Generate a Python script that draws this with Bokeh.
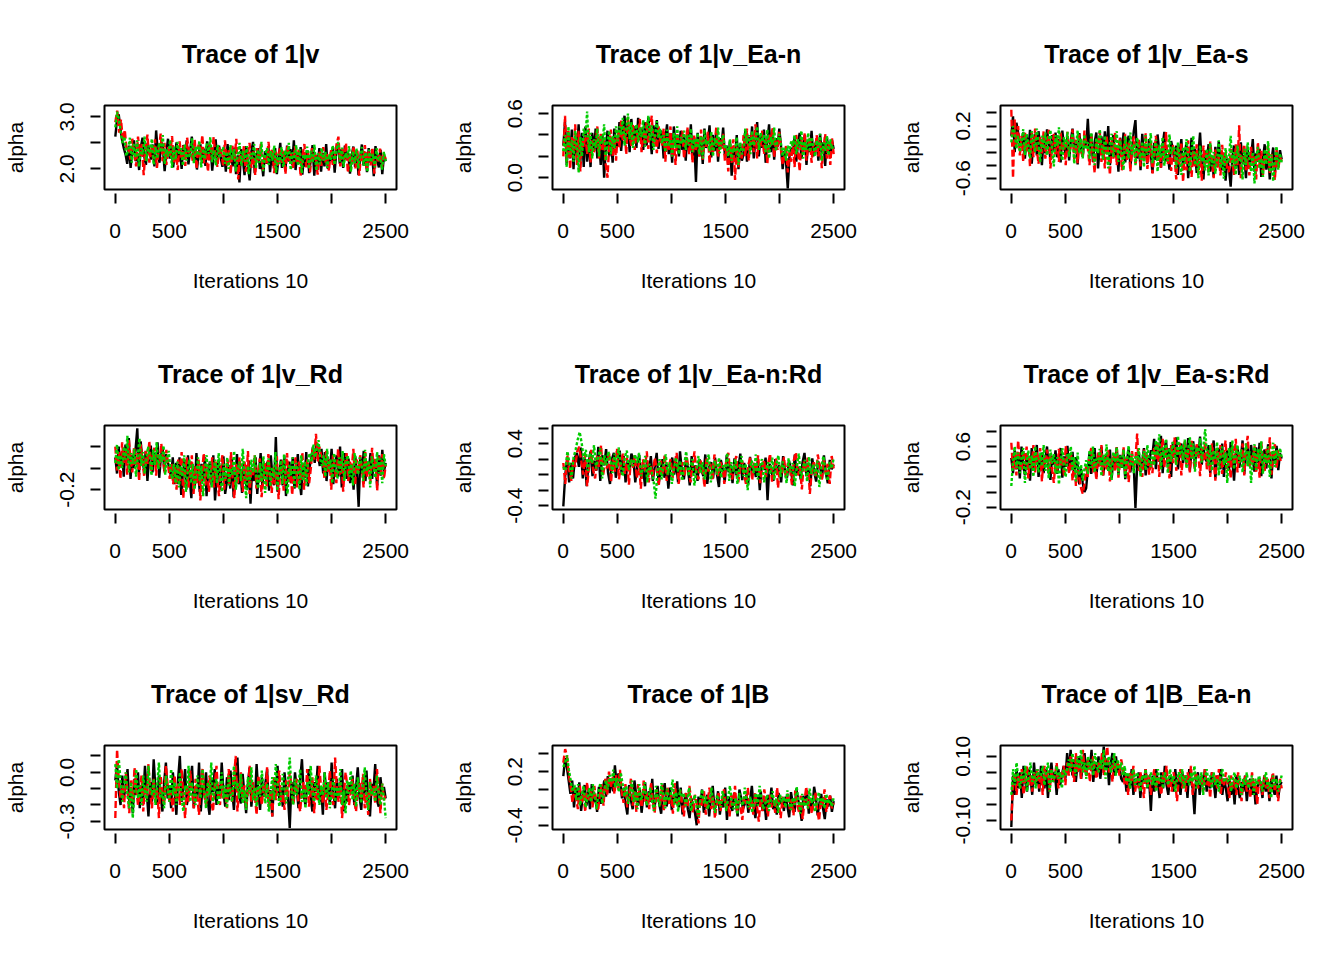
import numpy as np
from bokeh.plotting import figure
from bokeh.layouts import column, row
from bokeh.models import FixedTicker, Range1d, PrintfTickFormatter
from bokeh.embed import file_html
from bokeh.resources import INLINE

titles = ["Trace of 1|v", "Trace of 1|v_Ea-n", "Trace of 1|v_Ea-s",
          "Trace of 1|v_Rd", "Trace of 1|v_Ea-n:Rd", "Trace of 1|v_Ea-s:Rd",
          "Trace of 1|sv_Rd", "Trace of 1|B", "Trace of 1|B_Ea-n"]
x_label = "Iterations 10"
y_label = "alpha"
x_ticks_labeled = [0, 500, 1500, 2500]
x_ticks_unlabeled = [1000, 2000]
y_limits = [(1.606, 3.219), (-0.110, 0.676), (-0.775, 0.515), (-0.385, 0.397),
            (-0.45, 0.634), (-0.23, 0.877), (-0.35, 0.164), (-0.447, 0.491), (-0.128, 0.1335)]
y_ticks_labeled = [[2.0, 3.0], [0.0, 0.6], [-0.6, 0.2], [-0.2], [-0.4, 0.4],
                   [-0.2, 0.6], [-0.3, 0.0], [-0.4, 0.2], [-0.10, 0.10]]
y_ticks_unlabeled = [[2.5], [0.2, 0.4], [-0.4, -0.2, 0.0, 0.4], [0.0, 0.2], [-0.2, 0.0, 0.2, 0.6],
                     [0.0, 0.2, 0.4, 0.8], [-0.2, -0.1, 0.1], [-0.2, 0.0, 0.4], [-0.05, 0.0, 0.05]]
y_formats = ["%.1f"] * 8 + ["%.2f"]

# ---- chains, sampled evenly along the 2500 thinned iterations ----
v_c1 = [2.62, 2.95, 3.05, 2.78, 2.55, 2.40, 2.28,
        2.10, 2.45, 2.02, 2.38, 2.55, 2.15, 2.31, 1.98, 2.42, 2.60, 2.25, 2.08, 2.50, 2.36, 2.18, 2.47, 2.05, 2.74,
        2.30, 2.12, 2.52, 2.40, 1.96, 2.33, 2.58, 2.20, 2.44, 2.03, 2.29, 2.51, 2.14, 2.37, 2.00, 2.46, 2.22, 2.55,
        2.09, 2.35, 2.62, 2.16, 2.41, 1.99, 2.27, 2.48, 2.11, 2.39, 2.06, 2.53, 2.24, 2.43, 1.97, 2.32, 2.57, 2.13,
        2.45, 2.21, 2.04,
        2.30, 1.95, 2.48, 2.12, 2.35, 2.05, 2.41, 1.90, 2.26, 1.74, 2.38, 2.18, 1.88, 2.44, 2.08, 1.78, 2.33, 2.52,
        1.92, 2.22, 2.40, 2.00, 2.15, 1.86, 2.34, 2.10, 2.44, 1.94, 2.28, 2.06, 2.40, 1.90, 2.22, 2.50, 2.02, 2.32,
        1.96, 2.45, 2.14, 2.38, 2.08, 2.55, 1.98, 2.30, 2.12, 2.42, 1.89, 2.25, 2.04, 2.36, 1.92, 2.20, 2.46, 1.87,
        2.27, 2.09, 2.40, 1.95, 2.31, 2.05, 2.48, 2.00, 2.24, 2.15, 2.42, 1.93, 2.35, 2.50, 2.10, 2.38, 2.02, 2.45,
        2.18, 2.30, 1.91, 2.26, 2.43, 2.04, 2.36, 1.88, 2.21, 2.47, 2.07, 2.33, 1.94, 2.40, 2.12, 2.28, 1.86, 2.44,
        2.16, 2.03, 2.37, 1.90, 2.25, 2.15]
v_c2 = [2.90, 3.12, 2.70, 2.95, 2.55, 2.75, 2.35,
        2.40, 2.18, 2.58, 2.30, 2.05, 2.62, 2.25, 2.48, 1.88, 2.35, 2.66, 2.12, 2.44, 2.20, 2.57, 2.02, 2.38, 2.68,
        2.15, 2.50, 2.08, 2.42, 2.25, 2.63, 2.10, 2.36, 1.98, 2.53, 2.19, 2.45, 2.06, 2.60, 2.28, 2.40, 2.14, 2.56,
        2.00, 2.47, 2.23, 2.65, 2.11, 2.34, 1.95, 2.49, 2.17, 2.61, 2.26, 2.04, 2.43, 2.32, 2.07,
        2.55, 2.05, 2.36, 1.90, 2.45, 2.18, 2.58, 1.80, 2.30, 2.10, 2.44, 1.95, 2.26, 2.50, 2.02, 2.34, 1.88, 2.40,
        2.15, 2.48, 1.97, 2.28, 2.08, 2.52, 2.20, 2.38, 1.92, 2.33, 2.04, 2.42, 2.12, 2.35, 1.90, 2.46, 2.16, 2.30,
        2.00, 2.44, 2.10, 2.37, 1.86, 2.25, 2.48, 2.03, 2.32, 1.94, 2.40, 2.14, 2.27, 1.89, 2.35, 2.06, 2.42, 2.11,
        2.30, 1.96, 2.38, 2.08, 2.20, 2.47, 2.62, 2.05, 2.39, 2.18, 2.50, 1.93, 2.31, 2.09, 2.44, 2.01, 2.36, 1.87,
        2.29, 2.13, 2.46, 1.98, 2.34, 2.07, 2.41, 1.91, 2.24, 2.12, 2.39, 2.02, 2.30, 2.19]
v_c3 = [2.80, 3.10, 2.95, 2.70, 2.50, 2.62, 2.25,
        2.35, 2.60, 2.12, 2.48, 2.22, 2.55, 2.05, 2.40, 2.28, 2.62, 2.15, 2.45, 2.30, 2.58, 2.08, 2.42, 2.20, 2.50,
        2.32, 2.65, 2.10, 2.38, 2.24, 2.56, 2.02, 2.44, 2.18, 2.52, 2.27, 2.40, 2.06, 2.47, 2.16, 2.35, 2.22, 2.59,
        2.11, 2.43, 2.26, 2.54, 2.03, 2.39, 2.19, 2.49, 2.29, 2.61, 2.13, 2.36, 2.07, 2.46, 2.21, 2.33,
        2.42, 2.10, 2.33, 2.00, 2.46, 2.18, 2.38, 1.95, 2.28, 2.50, 2.06, 2.35, 2.14, 2.44, 1.90, 2.30, 2.20, 2.48,
        2.02, 2.37, 2.12, 2.52, 1.96, 2.26, 2.40, 2.08, 2.34, 2.16, 2.45, 1.93, 2.29, 2.10, 2.42, 2.04, 2.36, 2.22,
        2.50, 1.98, 2.32, 2.14, 2.46, 2.06, 2.38, 1.92, 2.27, 2.18, 2.43, 2.00, 2.35, 2.12, 2.47, 1.97, 2.30, 2.09,
        2.40, 2.16, 2.33, 2.02, 2.28, 2.18, 2.45, 2.08, 2.36, 2.52, 2.14, 2.41, 2.04, 2.31, 2.21, 2.44, 1.95, 2.34,
        2.11, 2.39, 2.01, 2.26, 2.42, 2.06, 2.32, 1.94, 2.37, 2.13, 2.29, 2.03, 2.40, 2.17, 2.24, 1.99, 2.33, 2.15]

vEan_c1 = [0.30, 0.52, 0.12, 0.40, 0.18, 0.45, 0.08, 0.35, 0.22, 0.50, 0.15, 0.42, 0.10,
           0.48, 0.15, 0.38, 0.10, 0.42, 0.25, 0.46, 0.18, 0.35, 0.12, 0.40, 0.00, 0.28, 0.44, 0.20, 0.36, 0.14,
           0.46, 0.28,
           0.30, 0.52, 0.25, 0.45, 0.58, 0.32, 0.50, 0.24, 0.55, 0.38, 0.48, 0.28, 0.56, 0.35, 0.46, 0.26, 0.52,
           0.30, 0.57, 0.40, 0.22, 0.49, 0.34, 0.54, 0.27, 0.44,
           0.42, 0.18, 0.36, 0.50, 0.22, 0.40, 0.14, 0.48, 0.30, 0.34, 0.20, 0.44, 0.26, 0.38, 0.16, 0.45, 0.24,
           0.50, 0.18, 0.35, -0.04, 0.42, 0.20, 0.38, 0.13, 0.46, 0.28, 0.33, 0.49, 0.19, 0.40, 0.25, 0.44, 0.15,
           0.37, 0.29, 0.47, 0.21,
           0.30, 0.12, 0.35, 0.02, 0.26, 0.18, 0.40, 0.08, 0.32, 0.16,
           0.22, 0.44, 0.15, 0.38, 0.26, 0.48, 0.18, 0.36, 0.52, 0.20, 0.40, 0.28, 0.45, 0.14, 0.34, 0.50, 0.24,
           0.42, 0.17, 0.37, 0.29, 0.46,
           0.30, 0.08, 0.25, 0.14, -0.10, 0.20, 0.28,
           0.22, 0.38, 0.15, 0.32, 0.42, 0.18, 0.28, 0.40, 0.12, 0.34, 0.24, 0.44, 0.20, 0.30, 0.36, 0.16, 0.41,
           0.23, 0.33, 0.11, 0.38, 0.26, 0.19, 0.35, 0.27]
vEan_c2 = [0.20, 0.58, 0.15, 0.45, 0.08, 0.38, 0.25, 0.50, 0.12, 0.44, 0.06, 0.36, 0.28,
           0.40, 0.22, 0.46, 0.14, 0.35, 0.24, 0.30, 0.48, 0.18, 0.42, 0.26, 0.36, 0.12, 0.00, 0.32, 0.45, 0.20,
           0.38, 0.16,
           0.44, 0.28, 0.54, 0.34, 0.47, 0.22, 0.57, 0.38, 0.30, 0.50, 0.26, 0.44, 0.36, 0.55, 0.24, 0.42, 0.32,
           0.52, 0.27, 0.46, 0.58, 0.31, 0.40, 0.23, 0.48, 0.35,
           0.30, 0.46, 0.15, 0.38, 0.25, 0.48, 0.20, 0.36, 0.12, 0.42, 0.28, 0.34, 0.44, 0.18, 0.32, 0.47, 0.22,
           0.38, 0.14, 0.40, 0.26, 0.34, 0.20, 0.45, 0.17, 0.36, 0.29, 0.43, 0.13, 0.39, 0.24, 0.31, 0.48, 0.19,
           0.35, 0.27, 0.41, 0.16,
           0.28, 0.06, 0.32, 0.14, 0.36, -0.02, 0.30, 0.10, 0.24, 0.18,
           0.40, 0.20, 0.46, 0.16, 0.34, 0.42, 0.24, 0.50, 0.18, 0.38, 0.28, 0.44, 0.22, 0.36, 0.13, 0.41, 0.30,
           0.47, 0.19, 0.35, 0.26, 0.43,
           0.26, 0.12, 0.20, 0.30, 0.05, 0.24, 0.15,
           0.34, 0.10, 0.40, 0.25, 0.06, 0.36, 0.22, 0.42, 0.16, 0.30, 0.38, 0.14, 0.32, 0.24, 0.40, 0.20, 0.35,
           0.09, 0.28, 0.41, 0.18, 0.33, 0.12, 0.37, 0.22]
vEan_c3 = [0.25, 0.40, 0.10, 0.48, 0.22, 0.35, 0.15, 0.44, 0.30, 0.05, 0.38, 0.20, 0.46,
           0.38, 0.62, 0.24, 0.42, 0.18, 0.36, 0.28, 0.46, 0.20, 0.40, 0.32, 0.50, 0.16, 0.34, 0.44, 0.22, 0.39,
           0.27, 0.48,
           0.34, 0.48, 0.40, 0.56, 0.30, 0.45, 0.60, 0.36, 0.52, 0.28, 0.44, 0.50, 0.33, 0.47, 0.38, 0.54, 0.29,
           0.43, 0.58, 0.35, 0.49, 0.26, 0.41, 0.53, 0.37, 0.46,
           0.32, 0.40, 0.24, 0.45, 0.30, 0.36, 0.20, 0.42, 0.28, 0.48, 0.22, 0.38, 0.32, 0.44, 0.26, 0.40, 0.30,
           0.46, 0.24, 0.36, 0.28, 0.42, 0.22, 0.39, 0.18, 0.45, 0.31, 0.35, 0.25, 0.43, 0.20, 0.37, 0.29, 0.47,
           0.23, 0.34, 0.40, 0.27,
           0.30, 0.20, 0.36, 0.16, 0.28, 0.24, 0.38, 0.12, 0.33, 0.22,
           0.26, 0.46, 0.32, 0.40, 0.22, 0.44, 0.30, 0.36, 0.48, 0.26, 0.42, 0.34, 0.40, 0.24, 0.45, 0.18, 0.38,
           0.31, 0.47, 0.25, 0.35, 0.41,
           0.32, 0.20, 0.28, 0.16, 0.30, 0.24, 0.34,
           0.30, 0.40, 0.22, 0.36, 0.28, 0.44, 0.18, 0.34, 0.26, 0.42, 0.24, 0.38, 0.30, 0.20, 0.35, 0.28, 0.41,
           0.16, 0.33, 0.25, 0.39, 0.21, 0.36, 0.27, 0.31]

vEas_c1 = [0.05, 0.35, -0.20, 0.25, 0.10, -0.05,
           -0.10, 0.10, -0.30, 0.05, -0.18, 0.14, -0.38, -0.05, 0.08, -0.25, 0.12, -0.15, -0.40, 0.02, -0.22, 0.15,
           -0.08, -0.32, 0.06, -0.18, 0.10, -0.28, 0.00, -0.36, 0.13, -0.12, -0.24, 0.04, -0.33, -0.02, 0.16, -0.20,
           -0.07, -0.39, 0.09, -0.16, -0.27, 0.03, -0.11,
           0.31, -0.20, 0.08, -0.35, -0.05, 0.10, -0.45, -0.12, 0.04, -0.30, 0.12, -0.22, 0.20, -0.40, -0.10, 0.06,
           -0.28, -0.15, -0.50, 0.02, -0.25, 0.10, -0.36, -0.08, 0.05, -0.42, -0.18, 0.12, 0.29, -0.30, -0.02, -0.48,
           0.08, -0.26, -0.14, -0.38, 0.00, -0.21, -0.52, -0.06, -0.32, 0.07, -0.19, -0.44, -0.09, 0.11, -0.34,
           -0.23, -0.47, -0.03, -0.16,
           -0.35, -0.10, -0.55, -0.20, 0.00, -0.45, -0.25, -0.05, -0.60, -0.30, 0.02, -0.40, -0.15, -0.52, -0.22,
           0.10, -0.38, -0.62, -0.18, -0.34, -0.08, -0.50, -0.27, -0.58, -0.12, -0.42, -0.03, -0.36, -0.48, -0.21,
           -0.64, -0.30,
           -0.45, -0.73, -0.28, -0.10, -0.45, -0.20, -0.55, -0.05, -0.38, -0.25, -0.60, -0.12, -0.42, -0.30, 0.00,
           -0.50, -0.22, -0.35, -0.15, -0.58, -0.30, -0.08, -0.47, -0.19, -0.62, -0.33, -0.13, -0.52, -0.24, -0.40,
           -0.17, -0.31]
vEas_c2 = [0.45, -0.60, 0.30, -0.10, 0.20, -0.25,
           0.05, -0.35, 0.12, -0.20, -0.02, -0.42, 0.10, -0.28, 0.16, -0.15, -0.38, 0.04, -0.22, 0.12, -0.30, -0.08,
           0.14, -0.45, -0.12, 0.08, -0.26, 0.02, -0.35, 0.10, -0.19, -0.04, -0.40, 0.11, -0.23, -0.09, 0.15, -0.31,
           -0.01, -0.37, 0.07, -0.17, -0.29, 0.13, -0.06,
           -0.15, -0.40, 0.05, -0.25, -0.52, 0.00, -0.18, 0.12, -0.35, -0.08, -0.45, 0.06, -0.22, -0.55, -0.02,
           -0.30, 0.10, -0.40, -0.12, 0.02, -0.48, -0.20, 0.08, -0.32, -0.05, -0.50, -0.15, 0.04, -0.38, -0.25,
           0.00, -0.42, -0.11, -0.33, 0.09, -0.46, -0.20, -0.03, -0.53, -0.27, 0.05, -0.36, -0.14, -0.44, -0.07,
           -0.29, 0.11, -0.39, -0.18, -0.49, -0.09,
           -0.28, -0.62, -0.12, -0.40, -0.05, -0.66, -0.22, -0.48, -0.02, -0.35, -0.58, -0.18, -0.42, -0.08, -0.55,
           -0.25, -0.64, -0.10, -0.38, -0.20, -0.51, -0.04, -0.33, -0.60, -0.16, -0.44, -0.26, -0.56, -0.09, -0.37,
           -0.21, -0.49,
           -0.50, -0.15, -0.36, -0.55, -0.08, -0.40, 0.21, -0.60, -0.22, -0.08, -0.48, -0.30, -0.56, -0.12, -0.38,
           -0.25, -0.62, -0.05, -0.44, -0.18, -0.55, -0.28, -0.35, -0.10, -0.52, -0.23, -0.41, -0.63, -0.15, -0.46,
           -0.27, -0.34]
vEas_c3 = [-0.05, 0.20, 0.10, -0.15, 0.05, -0.20,
           -0.05, 0.15, -0.25, 0.08, -0.12, -0.30, 0.12, -0.02, -0.20, 0.16, -0.08, -0.35, 0.05, -0.15, 0.10, -0.25,
           -0.02, 0.14, -0.18, -0.42, 0.06, -0.10, 0.18, -0.22, -0.33, 0.03, -0.14, 0.11, -0.27, -0.06, 0.09, -0.38,
           -0.11, 0.13, -0.21, 0.01, -0.30, 0.07, -0.16,
           -0.05, -0.30, 0.10, -0.15, -0.40, 0.02, -0.22, 0.15, -0.10, -0.32, 0.05, -0.18, -0.45, -0.06, 0.08,
           -0.28, -0.12, 0.12, -0.35, -0.02, -0.20, -0.48, 0.04, -0.15, -0.30, 0.10, -0.25, -0.08, -0.40, 0.02,
           -0.18, -0.32, -0.04, -0.43, 0.06, -0.24, -0.13, 0.09, -0.37, -0.19, -0.01, -0.50, -0.09, -0.29, 0.03,
           -0.41, -0.16, -0.34, 0.07, -0.23, -0.12,
           -0.15, -0.45, -0.05, -0.32, -0.55, -0.12, -0.38, 0.00, -0.25, -0.50, -0.18, 0.05, -0.40, -0.22, -0.60,
           -0.10, -0.35, -0.28, -0.48, -0.15, -0.56, -0.06, -0.42, -0.20, -0.53, -0.30, -0.02, -0.45, -0.24, -0.61,
           -0.14, -0.37,
           -0.30, 0.05, -0.42, -0.20, -0.55, -0.10, -0.35, -0.25, -0.62, -0.15, -0.40, -0.05, -0.32, -0.50, -0.20,
           -0.68, -0.28, -0.12, -0.45, -0.30, -0.58, -0.16, -0.39, -0.03, -0.51, -0.24, -0.65, -0.33, -0.11, -0.47,
           -0.22, -0.36]

vRd_c1 = [0.10, -0.05, 0.20, 0.02, 0.15, -0.08, 0.22, 0.05, 0.28, -0.10, 0.12, 0.00, 0.18, 0.37, -0.06, 0.25,
          0.08, -0.02, 0.16, -0.12, 0.10, 0.21, -0.04, 0.14, 0.03, 0.24, -0.09, 0.11, 0.19, -0.03, 0.13, 0.06,
          0.00, -0.08, 0.10, -0.15,
          0.05, -0.15, 0.10, -0.25, -0.05, 0.08, -0.20, 0.12, -0.10, -0.28, 0.02, -0.18, 0.14, -0.06, -0.22, 0.04,
          -0.12, 0.10, -0.26, -0.02, 0.06, -0.16, 0.12, -0.30, -0.08, 0.08, -0.20, -0.04, 0.11, -0.24, -0.13, 0.03,
          -0.19, 0.09, -0.27, -0.07, 0.13, -0.15, -0.01, -0.23, 0.05, -0.11, -0.20, 0.07, -0.33, 0.00, -0.12, 0.10,
          -0.24, -0.04, 0.14, -0.18, 0.02, -0.10, 0.06, -0.21, 0.12, -0.08, -0.16, 0.29, -0.22, -0.06, 0.08, -0.16,
          0.12, -0.26, -0.02, 0.06, -0.14, 0.10, -0.19, -0.05, 0.13, -0.11, -0.25, 0.04, -0.09, 0.15, -0.17, 0.01,
          0.10, 0.20, 0.05, 0.22, 0.12, 0.02, 0.18,
          -0.05, 0.15, -0.12, 0.08, -0.02, 0.18, -0.15, 0.05, 0.12, -0.08, 0.20, -0.18, 0.00, 0.14, -0.10, 0.09,
          -0.14, 0.03, -0.20, 0.11, -0.05, -0.36, 0.10, -0.05, 0.16, -0.12, 0.06, -0.02, 0.14, -0.10, 0.08, 0.02,
          -0.16, 0.12, -0.07, 0.17, -0.03, 0.05]
vRd_c2 = [0.20, -0.02, 0.15, -0.10, 0.24, 0.05, 0.18, -0.06, 0.26, 0.08, -0.04, 0.20, 0.02, 0.14, -0.12, 0.22,
          0.06, -0.08, 0.16, 0.04, 0.25, -0.03, 0.11, 0.19, -0.07, 0.13, 0.01, 0.23, 0.09, -0.05, 0.17, 0.03,
          -0.10, 0.05, -0.15, 0.02,
          -0.20, 0.08, -0.12, 0.15, -0.28, -0.02, 0.10, -0.18, -0.06, 0.12, -0.24, 0.02, -0.14, 0.08, -0.30, -0.04,
          0.14, -0.16, 0.04, -0.22, -0.08, 0.10, -0.18, 0.06, -0.12, -0.26, 0.02, 0.12, -0.20, -0.06, 0.08, -0.16,
          0.15, -0.10, -0.28, 0.04, -0.14, 0.10, -0.04, -0.22, 0.06, -0.12, 0.16, -0.24, 0.00, -0.08, 0.12, -0.19,
          -0.03, 0.09, -0.27, -0.11, 0.05, -0.17, 0.13, -0.07, -0.23, 0.01, -0.15, 0.11, -0.29, -0.01, 0.07, -0.21,
          -0.09, 0.14, -0.13, 0.03, -0.25, -0.05, 0.10, -0.18, 0.06, -0.11, 0.15, -0.20, -0.02, 0.08, -0.14,
          0.00, 0.18, 0.08, 0.32, 0.06, 0.20, 0.12,
          0.10, -0.10, 0.16, -0.04, 0.08, -0.20, 0.12, 0.02, -0.14, 0.18, -0.06, 0.10, -0.22, 0.04, 0.14, -0.12,
          0.06, -0.02, 0.18, -0.16, 0.08, -0.04, 0.12, 0.00, -0.18, 0.15, -0.08, 0.05, -0.13, 0.19, -0.01, 0.09,
          -0.21, 0.11, -0.06, 0.13, -0.10, 0.03]
vRd_c3 = [0.05, 0.22, -0.02, 0.12, 0.00, 0.20, 0.08, 0.30, -0.04, 0.14, 0.04, 0.18, -0.08, 0.10, 0.28, 0.02,
          0.15, -0.05, 0.08, 0.20, 0.11, -0.07, 0.17, 0.03, 0.24, -0.01, 0.13, 0.06, 0.21, -0.06, 0.09, 0.16,
          -0.02, -0.10, 0.04, -0.14,
          0.06, -0.18, 0.02, -0.08, 0.12, -0.22, -0.04, 0.08, -0.14, 0.04, -0.20, -0.06, 0.10, -0.12, 0.02, -0.26,
          -0.02, 0.12, -0.10, 0.06, -0.18, -0.04, 0.08, -0.14, 0.14, -0.08, -0.22, 0.04, -0.10, 0.10, -0.16, 0.00,
          -0.06, 0.16, -0.20, -0.02, 0.06, -0.12, 0.18, -0.08, -0.28, 0.02, -0.14, 0.08, -0.04, 0.12, -0.10, -0.19,
          0.05, -0.13, 0.11, -0.23, -0.03, 0.09, -0.17, 0.01, -0.09, 0.15, -0.21, -0.05, 0.07, -0.15, 0.13, -0.11,
          -0.24, 0.03, -0.07, 0.10, -0.18, 0.05, -0.01, -0.20, 0.12, -0.12, 0.06, -0.16, 0.09,
          0.14, 0.06, 0.22, 0.10, 0.18, 0.26, 0.08,
          0.02, 0.12, -0.08, 0.18, -0.02, 0.08, -0.14, 0.14, 0.00, -0.10, 0.10, -0.04, 0.16, -0.12, 0.06, 0.12,
          -0.08, 0.04, -0.16, 0.14, 0.02, -0.06, 0.10, 0.04, -0.12, 0.17, -0.03, 0.07, -0.18, 0.11, 0.01, -0.09,
          0.15, -0.05, 0.09, -0.14, 0.13, 0.02]

vEanRd_c1 = [-0.41, 0.00, 0.20, -0.10, 0.15, -0.05, 0.22,
             0.28, 0.10, 0.35,
             -0.05, 0.22, -0.15, 0.15, 0.30, -0.02, 0.18, 0.05, 0.36, -0.08, 0.25, 0.12, 0.33, 0.02, -0.12, 0.20,
             0.28, -0.04, 0.14, 0.31, 0.00, 0.24, -0.10, 0.17, 0.08, 0.27,
             0.20, -0.10, 0.12, 0.26, -0.05, 0.08, -0.15, 0.18, 0.02, 0.24, -0.08, 0.10, 0.28, -0.12, 0.05, 0.20,
             -0.04, 0.14, -0.18, 0.08, 0.22, 0.00, 0.16, -0.10, 0.30, 0.04, -0.06, 0.18, 0.10, -0.14, 0.24, 0.02,
             0.12, -0.08, 0.20, 0.06, -0.02, 0.26, -0.12, 0.10, 0.16, -0.05, 0.22, 0.00, -0.16, 0.19, 0.07, -0.09,
             0.25, 0.03, 0.13, -0.11, 0.21, -0.01, 0.09, 0.27, -0.07, 0.15, 0.01, -0.13, 0.23, 0.05, 0.11, -0.03,
             0.18, -0.20, 0.14, 0.06, 0.22, -0.33, 0.14, 0.06, -0.08, 0.20, 0.02, 0.12, -0.10, 0.24, 0.04, -0.04,
             0.18, 0.08, -0.14, 0.26, 0.00, 0.10, -0.06, 0.16, 0.28, -0.02, 0.08, -0.15, 0.21, 0.03, -0.09, 0.17,
             0.11, -0.05, 0.25, 0.01, -0.11, 0.19, 0.07, 0.13]
vEanRd_c2 = [0.15, -0.12, 0.25, 0.05, -0.08, 0.20, 0.10,
             0.30, 0.36, 0.18,
             0.00, 0.26, -0.15, 0.12, 0.32, 0.06, -0.05, 0.24, 0.10, 0.38, -0.02, 0.18, 0.08, 0.29, -0.10, 0.21,
             0.04, 0.34, -0.06, 0.15, 0.27, 0.01, 0.22, -0.13, 0.19, 0.09,
             0.25, -0.05, 0.15, -0.18, 0.20, 0.05, 0.30, -0.10, 0.12, -0.02, 0.22, 0.08, -0.15, 0.18, 0.00, 0.26,
             -0.08, 0.10, 0.20, -0.04, 0.14, 0.28, -0.12, 0.06, 0.16, -0.02, 0.24, 0.08, -0.10, 0.12, 0.30, 0.00,
             -0.06, 0.18, 0.10, -0.16, 0.22, 0.04, 0.14, -0.08, 0.26, 0.06, -0.02, 0.16, 0.10, -0.12, 0.20, 0.28,
             0.02, -0.06, 0.14, 0.24, -0.10, 0.08, 0.18, 0.00, -0.14, 0.12, 0.22, -0.07, 0.17, 0.03, 0.25, -0.11,
             0.09, 0.19, -0.03, 0.13, 0.27, -0.09, 0.05, 0.21, -0.17, 0.11, 0.01, 0.23, -0.05, 0.15, 0.07, -0.13,
             0.19, 0.29, -0.01, 0.09, -0.19, 0.17, 0.04, 0.22, -0.25, 0.06, 0.16, -0.04, 0.26, 0.10, -0.08, 0.20,
             0.02, 0.14, -0.12, 0.24, 0.08]
vEanRd_c3 = [0.10, 0.05, 0.30, 0.15, -0.05, 0.22, 0.32,
             0.45, 0.55, 0.40,
             0.20, 0.32, 0.05, 0.28, 0.15, 0.38, 0.08, 0.22, 0.34, -0.05, 0.25, 0.12, 0.30, 0.18, 0.02, 0.27,
             0.09, 0.35, 0.14, -0.02, 0.23, 0.31, 0.06, 0.19, 0.11, 0.26,
             0.15, 0.28, -0.02, 0.10, 0.24, -0.10, 0.14, 0.05, -0.06, -0.31, 0.05, 0.20, -0.06, 0.14, 0.26, 0.00,
             0.16, -0.12, 0.08, 0.22, 0.04, 0.18, -0.08, 0.12, 0.30, -0.02, 0.10, 0.20, -0.14, 0.06, 0.24, 0.02,
             0.16, -0.06, 0.14, 0.26, -0.10, 0.08, 0.18, 0.00, 0.22, -0.04, 0.12, 0.06, 0.28, -0.08, 0.16, 0.04,
             0.20, -0.12, 0.10, 0.24, -0.02, 0.14, -0.20, 0.08, 0.18, 0.02, 0.26, -0.06, 0.12, 0.20, -0.10, 0.06,
             0.16, 0.00, 0.22, -0.07, 0.13, 0.25, -0.03, 0.17, 0.07, -0.11, 0.21, 0.03, 0.15, -0.15, 0.11, 0.27,
             -0.05, 0.09, 0.19, -0.09, 0.23, 0.01, 0.13, -0.01, 0.18, -0.16, 0.10, 0.24, 0.04, -0.08, 0.16, 0.08,
             0.21]

vEasRd_c1 = [0.45, 0.25, 0.55, 0.30, 0.48, 0.18, 0.60, 0.35, 0.22, 0.50, 0.40, 0.15, 0.58, 0.28, 0.45, 0.62,
             0.20, 0.38, 0.52, 0.25, 0.44, 0.60, 0.30, 0.16, 0.48, 0.36, 0.55, 0.24, 0.42, 0.58, 0.19, 0.47,
             0.33, 0.61, 0.27, 0.40, 0.53, 0.21, 0.46, 0.35, 0.10, 0.31, 0.12, 0.00, 0.05, 0.30, 0.52, 0.24,
             0.42, 0.58, 0.20, 0.46, 0.34, 0.60, 0.22, 0.40, 0.50, 0.28, 0.56, 0.18, 0.44, 0.37, 0.59, 0.23,
             0.49, 0.32, 0.54, 0.17, 0.41, 0.57, 0.26, 0.45, 0.35, -0.21, 0.35, 0.52, 0.26, 0.40, 0.58, 0.22,
             0.48, 0.31, 0.55,
             0.50, 0.70, 0.30, 0.62, 0.40, 0.74, 0.25, 0.55, 0.68, 0.35, 0.58, 0.20, 0.66, 0.45, 0.72, 0.30,
             0.52, 0.64, 0.38, 0.60, 0.42, 0.71, 0.28, 0.56, 0.67, 0.33, 0.61, 0.47, 0.73, 0.36, 0.57, 0.44,
             0.40, 0.62, 0.25, 0.50, 0.68, 0.18, 0.46, 0.58, 0.30, 0.64, 0.20, 0.48, 0.55, 0.28, 0.66, 0.40,
             0.15, 0.52, 0.60, 0.32, 0.45, 0.68, 0.24, 0.50, 0.58, 0.35, 0.62, 0.42, 0.27, 0.59, 0.38, 0.65,
             0.21, 0.49, 0.56, 0.31, 0.63, 0.43, 0.18, 0.54, 0.37, 0.61, 0.29, 0.51, 0.44]
vEasRd_c2 = [0.65, 0.30, 0.50, 0.22, 0.68, 0.40, 0.28, 0.55, 0.35, 0.60, 0.18, 0.48, 0.32, 0.62, 0.26, 0.52,
             0.40, 0.58, 0.14, 0.45, 0.36, 0.56, 0.24, 0.50, 0.30, 0.12, 0.42, 0.28, 0.57, 0.34, 0.46, 0.20,
             0.61, 0.38, 0.25, 0.53, 0.15, 0.44, 0.08, 0.29, 0.18, 0.05, -0.02, 0.10, 0.35, 0.20, 0.48, 0.58,
             0.26, 0.40, 0.16, 0.52, 0.34, 0.62, 0.22, 0.46, 0.30, 0.55, 0.14, 0.38, 0.50, 0.27, 0.59, 0.19,
             0.43, 0.33, 0.60, 0.24, 0.47, 0.13, 0.39, 0.54, 0.30, 0.44, 0.77, 0.28, 0.44, 0.20, 0.56, 0.36,
             0.49, 0.23, 0.41,
             0.25, 0.58, 0.42, 0.66, 0.20, 0.52, 0.70, 0.32, 0.60, 0.45, 0.18, 0.62, 0.38, 0.72, 0.28, 0.55,
             0.65, 0.22, 0.48, 0.68, 0.35, 0.57, 0.26, 0.69, 0.43, 0.30, 0.63, 0.50, 0.21, 0.59, 0.40, 0.67,
             0.30, 0.55, 0.20, 0.64, 0.42, 0.15, 0.58, 0.35, 0.62, 0.24, 0.50, 0.68, 0.30, 0.46, 0.18, 0.60,
             0.38, 0.70, 0.26, 0.52, 0.40, 0.64, 0.22, 0.56, 0.74, 0.34, 0.48, 0.38, 0.61, 0.25, 0.53, 0.19,
             0.66, 0.41, 0.28, 0.57, 0.36, 0.72, 0.23, 0.47, 0.63, 0.31, 0.55, 0.44, 0.39]
vEasRd_c3 = [0.08, 0.40, 0.60, 0.32, 0.52, 0.25, 0.46, 0.58, 0.12, 0.38, 0.55, 0.30, 0.48, 0.20, 0.60, 0.40,
             0.26, 0.52, 0.34, 0.62, 0.28, 0.44, 0.18, 0.56, 0.38, 0.50, 0.24, 0.46, 0.10, 0.40, 0.58, 0.32,
             0.20, 0.50, 0.44, 0.60, 0.28, 0.46, 0.14, 0.52, 0.22, 0.36, 0.15, 0.30, 0.42, 0.24, 0.55, 0.32,
             0.60, 0.26, 0.44, 0.38, 0.57, 0.21, 0.49, 0.35, 0.63, 0.27, 0.45, 0.16, 0.53, 0.39, 0.59, 0.23,
             0.48, 0.31, 0.56, 0.19, 0.43, 0.61, 0.34, 0.50, 0.25, 0.47, 0.37, 0.58, 0.20, 0.45, 0.54, 0.29,
             0.62, 0.41, 0.33,
             0.55, 0.35, 0.68, 0.48, 0.76, 0.30, 0.60, 0.45, 0.70, 0.25, 0.58, 0.40, 0.66, 0.52, 0.36, 0.74,
             0.48, 0.62, 0.42, 0.69, 0.31, 0.57, 0.72, 0.44, 0.64, 0.27, 0.59, 0.50, 0.71, 0.39, 0.61, 0.83,
             0.50, 0.35, 0.62, 0.28, 0.55, 0.44, 0.66, 0.22, 0.48, 0.60, 0.36, 0.52, 0.12, 0.58, 0.42, 0.68,
             0.30, 0.50, 0.62, 0.38, 0.56, 0.26, 0.46, 0.64, 0.34, 0.54, 0.12, 0.44, 0.63, 0.29, 0.57, 0.41,
             0.67, 0.24, 0.51, 0.37, 0.60, 0.20, 0.47, 0.65, 0.33, 0.55, 0.43, 0.58, 0.46]

svRd_c1 = [-0.05, 0.05, -0.12, -0.20, -0.02, -0.15, -0.08, 0.02, -0.18, -0.10, -0.25, -0.04, -0.14, 0.00, -0.22,
           -0.08, -0.16, 0.04, -0.12, -0.27, -0.06, -0.18, 0.08, -0.10, -0.20, -0.02, -0.14, -0.24, -0.06, 0.06,
           -0.16, -0.08, -0.22, 0.00, -0.12, -0.26, -0.04, 0.10, -0.18, -0.10, 0.02, -0.20, -0.14, -0.06, 0.04,
           -0.22, -0.10, -0.16, 0.06, -0.24, -0.08, -0.14, 0.00, -0.18, -0.26, -0.04, -0.12, 0.02, -0.20, -0.08,
           -0.16, 0.06, -0.12, -0.21, -0.03, -0.17, 0.01, -0.11, -0.23, -0.05, 0.09, -0.15, -0.19, -0.01, -0.13,
           -0.25, -0.07, 0.03, -0.21, -0.09, -0.17, 0.05, -0.13, -0.23, -0.03, -0.15, -0.07, 0.02, -0.19, -0.11,
           -0.27, -0.05, -0.13, 0.04, -0.17, -0.09, -0.21, 0.00, -0.11, -0.15, -0.34, -0.06, -0.18, 0.00, -0.10,
           -0.22, -0.04, 0.08, -0.14, -0.20, -0.08, 0.02, -0.16, -0.24, -0.06, -0.12, 0.04, -0.18, -0.10, -0.26,
           0.00, -0.14, -0.06, -0.20, 0.06, -0.12, -0.22, -0.04, -0.16, -0.08, 0.02, -0.24, -0.10, -0.18, -0.06,
           -0.12, -0.02, -0.20, -0.09, 0.03, -0.15, -0.23, -0.05, -0.13, 0.01, -0.19, -0.27, -0.07, -0.11, 0.05,
           -0.17, -0.21, -0.03, -0.13, -0.09, -0.16]
svRd_c2 = [-0.28, 0.14, -0.05, -0.16, -0.08, -0.22, 0.00, -0.12, -0.25, -0.05, -0.18, 0.03, -0.10, -0.20, -0.14,
           -0.02, -0.24, -0.08, -0.16, 0.05, -0.12, -0.22, -0.04, -0.18, -0.10, -0.28, -0.02, -0.14, -0.20, 0.04,
           -0.08, -0.18, -0.12, -0.24, -0.02, -0.16, -0.06, -0.20, 0.02, -0.14, -0.28, -0.08, -0.18, 0.01, -0.12,
           -0.22, -0.04, -0.16, -0.26, -0.06, 0.02, -0.14, -0.20, -0.10, -0.02, -0.18, -0.24, -0.08, 0.04, -0.14,
           -0.20, -0.06, -0.16, -0.10, -0.22, 0.02, -0.12, -0.18, -0.04, 0.10, -0.24, -0.10, 0.00, -0.16, -0.08,
           -0.22, -0.12, 0.04, -0.18, -0.06, -0.14, -0.26, -0.02, -0.12, -0.20, -0.07, -0.15, 0.03, -0.21, -0.11,
           -0.27, -0.03, -0.17, -0.09, 0.01, -0.19, -0.13, -0.23, -0.05, -0.15, 0.00, -0.08, -0.20, -0.12, -0.04,
           -0.18, -0.24, -0.10, -0.06, -0.16, 0.02, -0.21, -0.13, -0.03, -0.25, -0.09, -0.17, 0.04, -0.11, -0.19,
           -0.05, -0.23, -0.13, 0.01, -0.15, -0.20, 0.09, -0.10, -0.18, -0.06, -0.28, -0.14, 0.00, -0.08, -0.20,
           -0.12, -0.04, -0.18, -0.24, -0.10, -0.06, -0.16, -0.01, -0.22, -0.12, -0.26, -0.04, -0.15, -0.08, -0.19,
           0.02, -0.11, -0.25, -0.07, -0.17, -0.13]
svRd_c3 = [0.05, -0.10, 0.08, -0.05, -0.18, -0.08, 0.00, -0.14, -0.22, -0.06, -0.28, -0.12, 0.02, -0.16, -0.08,
           -0.20, -0.02, -0.12, -0.18, 0.04, -0.10, -0.14, -0.04, -0.20, -0.08, 0.06, -0.16, -0.12, -0.22, -0.02,
           -0.10, -0.18, 0.02, -0.14, -0.06, -0.20, -0.12, 0.00, -0.16, -0.24, -0.08, -0.12, 0.04, -0.18, -0.06,
           -0.14, -0.20, -0.02, -0.10, -0.16, 0.02, -0.12, -0.22, -0.06, -0.14, 0.06, -0.18, -0.10, -0.04, -0.20,
           -0.12, 0.00, -0.16, -0.08, -0.22, -0.02, -0.14, -0.18, 0.04, -0.10, -0.06, -0.16, -0.01, -0.19, -0.11,
           -0.23, -0.03, -0.13, 0.03, -0.17, -0.09, -0.21, -0.05, -0.15, 0.01, -0.11, -0.19, -0.07, -0.24, -0.13,
           -0.03, -0.17, 0.05, -0.09, -0.21, -0.15, -0.01, -0.11, -0.19, -0.05, 0.09, -0.12, -0.20, -0.04, -0.14,
           -0.08, 0.02, -0.18, -0.10, -0.22, -0.06, -0.14, 0.04, -0.12, -0.18, -0.02, -0.10, -0.20, -0.08, -0.14,
           0.00, -0.16, -0.06, -0.22, -0.12, -0.04, -0.18, -0.09, -0.15, 0.02, -0.20, -0.11, -0.25, -0.05, -0.13,
           0.01, -0.17, -0.07, -0.21, -0.03, -0.12, -0.19, -0.08, 0.03, -0.15, -0.23, -0.06, -0.14, -0.10, -0.18,
           -0.02, -0.13, -0.20, -0.07, -0.16, -0.28]

B_c1 = [0.15, 0.35, 0.25, 0.10, -0.05, 0.10, -0.20,
        0.02, -0.12, 0.08, -0.24, -0.06, 0.05, -0.18, -0.02, -0.22, 0.06, -0.14, -0.08, -0.25, 0.03, -0.16, -0.04,
        0.10, -0.08, 0.15, -0.04, 0.12, -0.02, 0.27, 0.05, 0.18, 0.08,
        -0.10, 0.02, -0.16, -0.28, 0.05, -0.12,
        -0.22, 0.10, -0.06, -0.18, 0.00, -0.26, -0.08, 0.08, -0.20, -0.02, -0.14, 0.12, -0.24, -0.10, 0.04, -0.17,
        -0.27, -0.05, 0.07, -0.19, -0.11, 0.02, -0.23, -0.07, -0.15, 0.09,
        -0.20, 0.02, -0.28, -0.12, -0.04, -0.22, -0.32, -0.10, -0.18, -0.26, -0.40, -0.08, -0.18, 0.00, -0.26,
        -0.14, -0.06, -0.30, -0.10, 0.04, -0.22, -0.16, -0.02, -0.28, -0.12, -0.20, 0.02, -0.34, -0.08, -0.18,
        -0.24, -0.04, -0.14, -0.30, 0.00, -0.10, -0.22, -0.16, -0.06, -0.26, -0.12, 0.04, -0.20, -0.32, -0.08,
        -0.16, -0.02, -0.24, -0.12, -0.34, -0.06, -0.18, 0.02, -0.22, -0.14, -0.28, -0.04, -0.16, -0.10, -0.24,
        -0.08, -0.19, -0.31, -0.03, -0.15, -0.25, 0.01, -0.11, -0.21, -0.35, -0.07, -0.17, -0.01, -0.27, -0.13,
        -0.23, 0.03, -0.09, -0.29, -0.15, -0.05, -0.21, -0.33, -0.11, -0.19, -0.07, -0.25, -0.13]
B_c2 = [0.30, 0.45, 0.38, 0.15, 0.05, -0.15, 0.02,
        -0.10, -0.22, 0.05, -0.16, -0.04, -0.25, 0.08, -0.12, -0.02, -0.20, 0.04, -0.14, -0.24, -0.06, 0.06, -0.18,
        0.12, -0.06, 0.20, 0.02, 0.14, -0.05, 0.16, 0.00, 0.22, -0.03,
        -0.15, 0.06, -0.20, -0.08, 0.12, -0.18,
        -0.02, -0.25, 0.06, -0.10, -0.20, 0.10, -0.14, -0.04, -0.22, 0.08, -0.12, -0.26, 0.00, -0.08, -0.18, 0.05,
        -0.23, -0.11, 0.03, -0.16, -0.06, -0.27, 0.07, -0.13, -0.19, -0.01,
        -0.16, -0.30, -0.04, -0.20, 0.04, -0.12, -0.26, -0.06, -0.16, -0.38, -0.10, -0.18, -0.02, -0.28, -0.14,
        0.02, -0.22, -0.08, -0.32, -0.16, -0.04, -0.24, -0.10, 0.00, -0.20, -0.14, -0.30, -0.06, -0.18, 0.04,
        -0.26, -0.12, -0.20, -0.34, -0.08, -0.16, 0.02, -0.22, -0.12, -0.28, -0.04, -0.18, -0.36, -0.10, -0.24,
        0.00, -0.14, -0.30, -0.06, -0.20, -0.12, -0.26, 0.02, -0.16, -0.32, -0.08, -0.20, -0.14, -0.04, -0.22,
        -0.11, -0.29, -0.01, -0.17, -0.25, -0.07, -0.33, -0.13, 0.03, -0.21, -0.09, -0.27, -0.15, -0.03, -0.23,
        -0.35, -0.11, -0.19, 0.00, -0.25, -0.13, -0.07, -0.21, -0.15]
B_c3 = [0.25, 0.30, 0.38, 0.22, 0.10, -0.02, 0.05,
        -0.12, 0.06, -0.18, -0.06, 0.04, -0.20, -0.10, 0.02, -0.14, 0.06, -0.08, -0.22, -0.02, 0.07, -0.16, -0.04,
        0.10, 0.00, 0.16, 0.08, 0.22, 0.02, 0.13, -0.03, 0.19, 0.06,
        -0.08, 0.04, -0.16, -0.06, 0.10, -0.14,
        -0.02, -0.22, 0.06, -0.12, -0.04, 0.08, -0.18, -0.08, 0.02, -0.14, -0.24, 0.04, -0.10, -0.19, 0.07, -0.05,
        -0.21, 0.01, -0.13, -0.07, 0.11, -0.17, -0.03, -0.25, 0.00, -0.09,
        -0.04, -0.18, -0.10, 0.02, -0.24, -0.14, -0.06, -0.20, -0.30, -0.10, 0.00, -0.16, -0.08, -0.22, -0.12,
        0.02, -0.18, -0.26, -0.06, -0.14, -0.20, -0.02, -0.12, -0.24, -0.08, 0.04, -0.16, -0.22, -0.10, -0.28,
        -0.04, -0.14, -0.18, 0.02, -0.12, -0.20, -0.08, -0.26, -0.14, -0.04, -0.18, 0.04, -0.10, -0.22, -0.16,
        -0.06, -0.24, -0.12, -0.02, -0.18, -0.10, -0.26, -0.06, -0.14, -0.08, -0.20, -0.01, -0.15, -0.23, -0.09,
        -0.17, 0.03, -0.13, -0.27, -0.05, -0.19, -0.11, -0.21, 0.01, -0.15, -0.07, -0.25, -0.13, -0.03, -0.17,
        -0.09, -0.21, -0.05, -0.16, -0.12, -0.19, -0.09]

BEan_c1 = [-0.12, 0.04, -0.02, 0.06, 0.00, 0.05, -0.03,
           0.07, 0.02, -0.01, 0.06, 0.03, -0.02, 0.08, 0.01, 0.05, -0.01, 0.07, 0.03, 0.00, 0.06, -0.03, 0.04,
           0.08, 0.02, 0.05, -0.02, 0.06, 0.01, 0.04, 0.07, 0.03,
           0.11, 0.05, 0.12, 0.04, 0.09, 0.02, 0.08, 0.10, 0.03, 0.07, 0.11, 0.04, 0.09, 0.06, 0.12, 0.02, 0.08,
           0.05, 0.10, 0.03, 0.07, 0.13, 0.06, 0.09, 0.01, 0.08, 0.11, 0.04, 0.10, 0.05, 0.07, 0.03,
           0.02, 0.05, -0.01, 0.04, 0.00, 0.06, -0.02, 0.03, 0.01, 0.05, -0.03, 0.04, 0.02, 0.06, 0.00, 0.03,
           -0.07, 0.04, -0.01, 0.06, 0.02, -0.03, 0.05, 0.00, 0.07, 0.01, -0.02, 0.04, 0.02, -0.01, 0.06, 0.00,
           0.03, -0.02, 0.05, 0.01, 0.04, -0.03, 0.06, 0.02, 0.00, -0.08, 0.03, 0.05, -0.02, 0.04, 0.01, 0.06,
           -0.01, 0.03, 0.00, 0.05, 0.02, -0.03, 0.04, 0.01, 0.06, -0.02, 0.03, 0.00,
           -0.04, 0.03, -0.02, 0.02, -0.05, 0.04, 0.00, -0.03, 0.02, -0.01, 0.04, -0.04, 0.01, 0.03, -0.02, 0.02,
           -0.05, 0.00, 0.03, 0.01, -0.03, 0.04, -0.01, 0.02, -0.04, 0.03, 0.00, -0.02, 0.04, -0.03, 0.01, 0.02]
BEan_c2 = [-0.10, 0.02, 0.05, -0.02, 0.04, 0.00, 0.06,
           -0.02, 0.03, 0.07, 0.01, 0.04, -0.01, 0.05, 0.02, 0.06, 0.00, 0.04, -0.02, 0.07, 0.03, 0.05, -0.01,
           0.06, 0.02, 0.04, 0.08, 0.00, 0.05, 0.03, 0.07, 0.01,
           0.08, 0.04, 0.10, 0.06, 0.02, 0.11, 0.05, 0.08, 0.03, 0.12, 0.06, 0.04, 0.09, 0.02, 0.07, 0.10, 0.05,
           0.03, 0.08, 0.06, 0.11, 0.04, 0.09, 0.13, 0.05, 0.07, 0.02, 0.10, 0.06, 0.08, 0.04, 0.09,
           0.06, 0.01, 0.04, -0.02, 0.05, 0.02, 0.07, -0.01, 0.03, 0.00, 0.05, 0.02, -0.03, 0.06, 0.01, 0.04,
           -0.02, 0.03, 0.06, 0.00, 0.04, 0.01, -0.02, 0.05, 0.02, 0.07, 0.00, 0.03, -0.01, 0.05, 0.02, -0.04,
           0.03, 0.06, 0.00, 0.04, -0.01, 0.05, 0.02, 0.07, -0.02, 0.03, 0.05, 0.00, 0.02, 0.04, -0.01, 0.06,
           0.01, 0.03, -0.03, 0.05, 0.02, 0.04, 0.00, 0.06, -0.02, 0.03, 0.01, 0.05,
           0.01, -0.03, 0.04, 0.00, 0.03, -0.02, 0.05, 0.01, -0.04, 0.02, 0.04, -0.01, 0.03, -0.03, 0.05, 0.00,
           0.02, -0.05, 0.03, 0.01, -0.02, 0.04, 0.00, 0.03, -0.03, 0.02, 0.05, -0.01, 0.01, -0.04, 0.03, 0.00]
BEan_c3 = [-0.02, 0.06, 0.01, 0.08, 0.03, 0.00, 0.05,
           0.02, 0.07, -0.01, 0.04, 0.08, 0.02, 0.05, 0.00, 0.06, 0.03, 0.04, 0.07, 0.01, 0.05, 0.08, -0.01,
           0.06, 0.02, 0.04, 0.07, 0.03, 0.05, 0.00, 0.06, 0.04,
           0.06, 0.09, 0.05, 0.11, 0.07, 0.04, 0.10, 0.06, 0.12, 0.05, 0.08, 0.03, 0.10, 0.06, 0.09, 0.04, 0.11,
           0.07, 0.05, 0.09, 0.06, 0.12, 0.03, 0.08, 0.10, 0.05, 0.07, 0.11, 0.04, 0.09, 0.06, 0.08,
           0.04, 0.07, 0.02, 0.05, 0.00, 0.04, 0.06, 0.01, 0.05, 0.03, -0.01, 0.04, 0.02, 0.06, 0.00, 0.03,
           0.05, 0.01, 0.04, -0.01, 0.06, 0.02, 0.04, 0.00, 0.05, 0.03, 0.01, 0.06, 0.02, 0.04, -0.01, 0.03,
           0.05, 0.02, 0.06, 0.00, 0.04, 0.03, 0.01, 0.05, 0.02, 0.07, 0.00, 0.04, 0.01, 0.05, -0.02, 0.03,
           0.06, 0.02, 0.04, 0.00, 0.05, 0.01, 0.03, -0.01, 0.04, 0.06, 0.02, 0.03,
           0.02, 0.04, -0.01, 0.03, 0.05, 0.00, 0.02, 0.04, -0.02, 0.03, 0.01, 0.05, 0.00, 0.02, 0.04, -0.02,
           0.03, 0.01, 0.04, 0.02, -0.01, 0.03, 0.05, 0.00, 0.02, -0.03, 0.04, 0.01, 0.03, -0.01, 0.02, 0.04]

panels_chains = [
    (v_c1, v_c2, v_c3), (vEan_c1, vEan_c2, vEan_c3), (vEas_c1, vEas_c2, vEas_c3),
    (vRd_c1, vRd_c2, vRd_c3), (vEanRd_c1, vEanRd_c2, vEanRd_c3), (vEasRd_c1, vEasRd_c2, vEasRd_c3),
    (svRd_c1, svRd_c2, svRd_c3), (B_c1, B_c2, B_c3), (BEan_c1, BEan_c2, BEan_c3),
]
chain_colors = ["#000000", "#FF0000", "#00CD00"]
chain_dashes = ["solid", "7 3", "3 2"]

FONT = "Liberation Sans"


def make_panel(k):
    p = figure(width=448, height=320,
               x_range=Range1d(-99, 2600), y_range=Range1d(*y_limits[k]),
               output_backend="svg", toolbar_location=None,
               min_border_left=104, min_border_right=52,
               min_border_top=103, min_border_bottom=131)
    p.background_fill_color = "white"
    p.border_fill_color = "white"
    p.outline_line_color = "black"
    p.outline_line_width = 2
    p.xgrid.visible = False
    p.ygrid.visible = False

    p.title.text = titles[k]
    p.title.align = "center"
    p.title.text_font = FONT
    p.title.text_font_size = "25px"
    p.title.text_font_style = "bold"
    p.title.text_color = "black"
    p.title.standoff = 75

    p.xaxis.ticker = FixedTicker(ticks=x_ticks_labeled, minor_ticks=x_ticks_unlabeled)
    p.yaxis.ticker = FixedTicker(ticks=y_ticks_labeled[k], minor_ticks=y_ticks_unlabeled[k])
    p.yaxis.formatter = PrintfTickFormatter(format=y_formats[k])
    p.xaxis.axis_label = x_label
    p.yaxis.axis_label = y_label
    p.yaxis.major_label_orientation = "vertical"
    for ax in (p.xaxis[0], p.yaxis[0]):
        ax.axis_line_color = None
        ax.major_tick_in = -4
        ax.major_tick_out = 14
        ax.minor_tick_in = -4
        ax.minor_tick_out = 14
        ax.major_tick_line_width = 2
        ax.minor_tick_line_width = 2
        ax.major_tick_line_color = "black"
        ax.minor_tick_line_color = "black"
        ax.major_label_text_font = FONT
        ax.major_label_text_font_size = "21px"
        ax.major_label_text_color = "black"
        ax.axis_label_text_font = FONT
        ax.axis_label_text_font_size = "21px"
        ax.axis_label_text_font_style = "normal"
        ax.axis_label_text_color = "black"
    p.xaxis.major_label_standoff = 20
    p.xaxis.axis_label_standoff = 28
    p.yaxis.major_label_standoff = 16
    p.yaxis.axis_label_standoff = 31

    for ch, col, dash in zip(panels_chains[k], chain_colors, chain_dashes):
        xs = np.linspace(1, 2500, len(ch))
        p.line(xs, ch, line_color=col, line_width=2.4, line_dash=dash)
    return p


figs = [make_panel(k) for k in range(9)]
layout = column(row(*figs[0:3]), row(*figs[3:6]), row(*figs[6:9]))
open("out.html", "w").write(file_html(layout, INLINE, title="Trace plots"))
